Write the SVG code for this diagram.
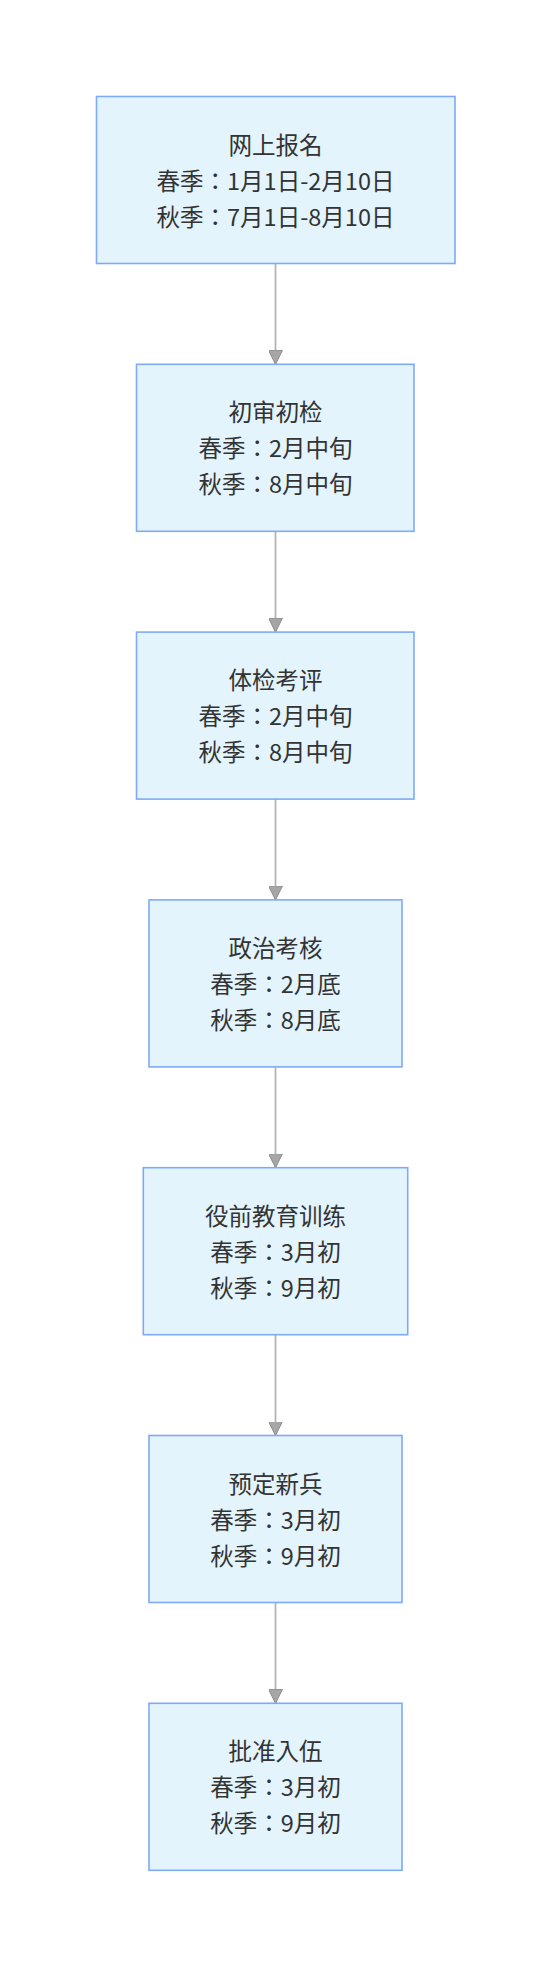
<svg xmlns="http://www.w3.org/2000/svg" width="551" height="1968" viewBox="0 0 551 1968">
<style>
.node rect{fill:#e3f4fd;stroke:#7eaaf8;stroke-width:1.6}
.node text{font-family:"Noto Sans CJK JP","Noto Sans CJK SC","Noto Sans",sans-serif;font-size:23.5px;fill:#333333;text-anchor:middle}
.edge{stroke:#b4b4b4;stroke-width:1.8;fill:none}
</style>
<defs>
<marker id="arr" viewBox="0 0 14 14" refX="14" refY="7" markerWidth="14" markerHeight="14" markerUnits="userSpaceOnUse" orient="auto">
<path d="M0,0 L14,7 L0,14 Z" fill="#a6a6a6" stroke="#8c8c8c" stroke-width="1"/>
</marker>
</defs>
<rect width="551" height="1968" fill="#ffffff"/>
<g id="connectors">
<line class="edge" x1="275.5" y1="263.5" x2="275.5" y2="364.3" marker-end="url(#arr)"/>
<line class="edge" x1="275.5" y1="531.3" x2="275.5" y2="632.1" marker-end="url(#arr)"/>
<line class="edge" x1="275.5" y1="799.1" x2="275.5" y2="899.9" marker-end="url(#arr)"/>
<line class="edge" x1="275.5" y1="1066.9" x2="275.5" y2="1167.7" marker-end="url(#arr)"/>
<line class="edge" x1="275.5" y1="1334.7" x2="275.5" y2="1435.5" marker-end="url(#arr)"/>
<line class="edge" x1="275.5" y1="1602.5" x2="275.5" y2="1703.3" marker-end="url(#arr)"/>
</g>
<g id="n1" class="node">
<rect x="96.5" y="96.5" width="358.5" height="167"/>
<text x="275.5" y="153.5">网上报名</text>
<text x="275.5" y="189.5">春季：1月1日-2月10日</text>
<text x="275.5" y="225.5">秋季：7月1日-8月10日</text>
</g>
<g id="n2" class="node">
<rect x="136.5" y="364.3" width="277.5" height="167"/>
<text x="275.5" y="421.3">初审初检</text>
<text x="275.5" y="457.3">春季：2月中旬</text>
<text x="275.5" y="493.3">秋季：8月中旬</text>
</g>
<g id="n3" class="node">
<rect x="136.5" y="632.1" width="277.5" height="167"/>
<text x="275.5" y="689.1">体检考评</text>
<text x="275.5" y="725.1">春季：2月中旬</text>
<text x="275.5" y="761.1">秋季：8月中旬</text>
</g>
<g id="n4" class="node">
<rect x="149" y="899.9" width="253" height="167"/>
<text x="275.5" y="956.9">政治考核</text>
<text x="275.5" y="992.9">春季：2月底</text>
<text x="275.5" y="1028.9">秋季：8月底</text>
</g>
<g id="n5" class="node">
<rect x="143.3" y="1167.7" width="264.4" height="167"/>
<text x="275.5" y="1224.7">役前教育训练</text>
<text x="275.5" y="1260.7">春季：3月初</text>
<text x="275.5" y="1296.7">秋季：9月初</text>
</g>
<g id="n6" class="node">
<rect x="149" y="1435.5" width="253" height="167"/>
<text x="275.5" y="1492.5">预定新兵</text>
<text x="275.5" y="1528.5">春季：3月初</text>
<text x="275.5" y="1564.5">秋季：9月初</text>
</g>
<g id="n7" class="node">
<rect x="149" y="1703.3" width="253" height="167"/>
<text x="275.5" y="1760.3">批准入伍</text>
<text x="275.5" y="1796.3">春季：3月初</text>
<text x="275.5" y="1832.3">秋季：9月初</text>
</g>
</svg>
